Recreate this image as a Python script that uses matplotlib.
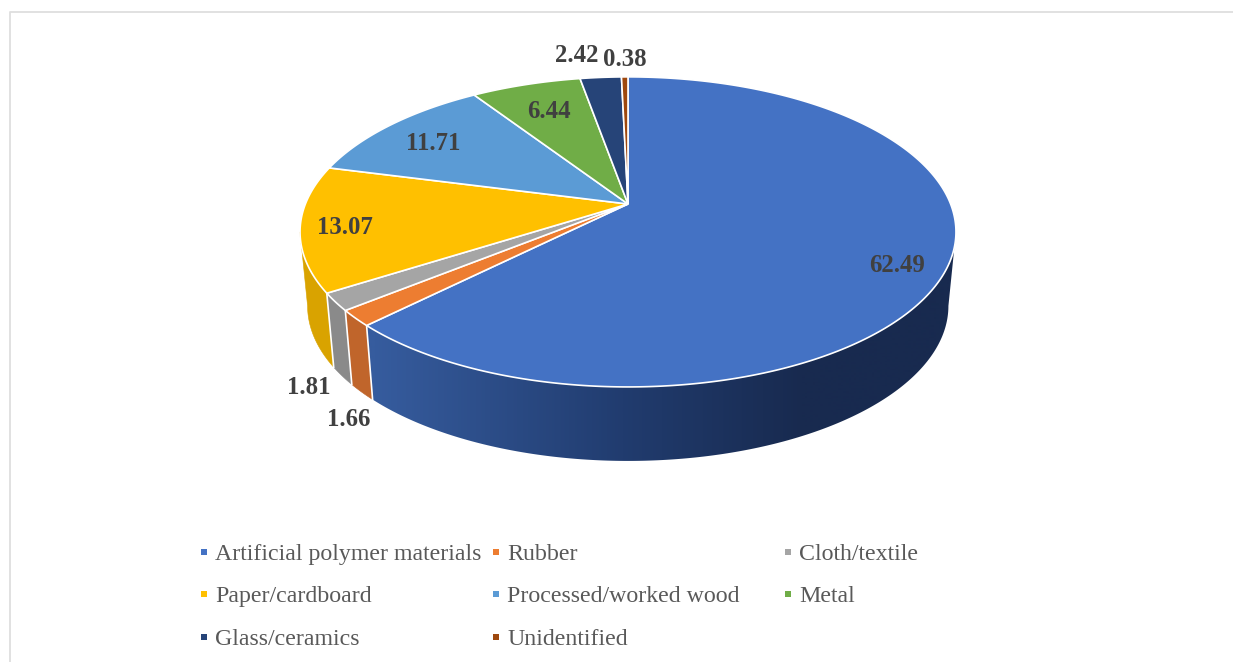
import numpy as np
import matplotlib
matplotlib.use('Agg')
import matplotlib.pyplot as plt
from matplotlib.colors import LinearSegmentedColormap
from matplotlib.patches import Polygon

labels = ['Artificial polymer materials', 'Rubber', 'Cloth/textile', 'Paper/cardboard',
          'Processed/worked wood', 'Metal', 'Glass/ceramics', 'Unidentified']
values = [62.49, 1.66, 1.81, 13.07, 11.71, 6.44, 2.42, 0.38]
colors = ['#4472C4', '#ED7D31', '#A5A5A5', '#FFC000', '#5B9BD5', '#70AD47', '#264478', '#9E480E']
wall_colors = ['#365C9E', '#C0652B', '#8A8A8A', '#D9A300', '#497CAA', '#5A8A39', '#1E3660', '#7E3A0B']

# layout in pixels
label_xy = [(897, 266), (349, 420), (309, 388), (345, 227), (433, 143), (549, 112), (577, 56), (625, 59)]
marker_x = [204, 496, 788]
marker_y = [552, 594, 637]
text_x = [215, 507, 799]
text_y = [560, 602, 645]
cx, cy = 628, 204
X, Y, k = 322.6, 150.0, 0.18
depth = 74
shrink = 0.977

def top_xy(theta):
    # disc seen in perspective, theta clockwise from 12 o'clock
    u, v = np.sin(theta), -np.cos(theta)
    w = 1 - k * v
    return cx + X * u / w, cy + Y * v / w

def bottom_xy(theta):
    x, y = top_xy(theta)
    return cx + shrink * (x - cx), y + depth

fig = plt.figure(figsize=(12.33, 6.62), dpi=100)
ax = fig.add_axes([0, 0, 1, 1])
ax.axis('off')

# frame
ax.plot([10, 10, 1233], [662, 12, 12], color='#DEDEDE', lw=1.3)

edges = np.cumsum([0] + values) / sum(values) * 2 * np.pi

# side wall, only the part between the two tangent points is visible
t_right = np.arccos(-k)
t_left = 2 * np.pi - t_right
for i in range(len(values)):
    a, b = max(edges[i], t_right), min(edges[i + 1], t_left)
    if a >= b:
        continue
    t = np.linspace(a, b, 200)
    xt, yt = top_xy(t)
    xb, yb = bottom_xy(t)
    xs, ys = np.r_[xt, xb[::-1]], np.r_[yt, yb[::-1]]
    if i == 0:
        # the big slice fades along x
        shade = LinearSegmentedColormap.from_list('wall', ['#365C9E', '#213C6F', '#182A4F', '#182A4F'])
        grad = np.interp(np.arange(300, 961), [373, 620, 800, 960], [0, 0.33, 0.66, 1]).reshape(1, -1)
        im = ax.imshow(grad, cmap=shade, vmin=0, vmax=1, extent=[300, 960, 480, 70], aspect='auto', zorder=2)
        clip = Polygon(np.c_[xs, ys], closed=True, transform=ax.transData, fc='none', ec='none')
        ax.add_patch(clip)
        im.set_clip_path(clip)
    else:
        ax.fill(xs, ys, color=wall_colors[i], lw=0.4, zorder=2)

for e in edges:
    x1, y1 = top_xy(e)
    x2, y2 = bottom_xy(e)
    ax.plot([x1, x2], [y1, y2], color='white', lw=1.2, zorder=3)

# top face
for i in range(len(values)):
    t = np.linspace(edges[i], edges[i + 1], max(3, int(values[i] * 8)))
    xs, ys = top_xy(t)
    ax.fill(np.r_[cx, xs], np.r_[cy, ys], facecolor=colors[i], edgecolor='white', lw=1.2,
            joinstyle='miter', zorder=4)

for (x, y), val in zip(label_xy, values):
    ax.text(x, y, '%.2f' % val, ha='center', va='center', fontsize=17.8, fontweight='bold',
            family='Liberation Serif', color='#404040', zorder=6)

for n in range(len(labels)):
    row, col = n // 3, n % 3
    ax.scatter(marker_x[col], marker_y[row], marker='s', s=25, color=colors[n], lw=0, zorder=6)
    ax.text(text_x[col], text_y[row], labels[n], ha='left', va='baseline', fontsize=17.2,
            family='Liberation Serif', color='#595959', zorder=6)

ax.set_xlim(0, 1233)
ax.set_ylim(662, 0)
fig.savefig('out.png', dpi=100)
